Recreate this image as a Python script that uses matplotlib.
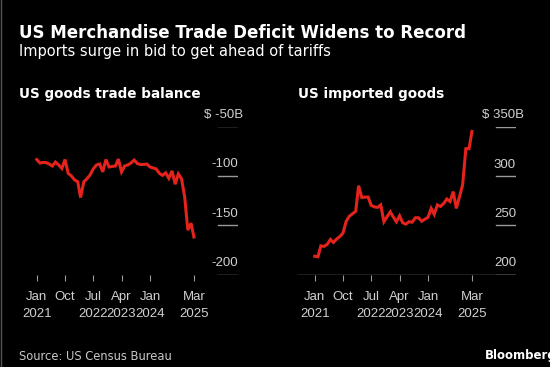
import matplotlib
matplotlib.use("Agg")
import matplotlib.pyplot as plt
import pandas as pd
from matplotlib.lines import Line2D

# monthly data, Jan 2021 - Mar 2025 (billions of dollars)
months = pd.date_range("2021-01-01", "2025-03-01", freq="MS")

trade_balance = [
    -83.5, -87, -86.5, -86.5, -88, -90, -86, -89, -92.5, -83.5, -97.5, -100,
    -104, -106, -122, -106, -103, -99, -93, -89, -88, -96, -83.5, -91,
    -90.5, -90, -83, -96, -90, -89, -87, -84, -87.5, -88.5, -88.5, -88,
    -91, -92, -93, -97.5, -99.5, -97, -102.5, -95, -108.5, -98, -103, -121,
    -155, -148, -162,
]

imports = [
    218.5, 218, 229, 228.5, 230.5, 235.5, 232.5, 236, 238.5, 242, 254, 259,
    261.5, 264, 290, 278, 278.5, 278.5, 270, 268.5, 268, 270.5, 253.5, 258.5,
    263.5, 258, 253.5, 259.5, 252.5, 251, 253.5, 253, 257.5, 257.5, 254, 256,
    258, 267, 261, 270.5, 269, 272, 276.5, 274, 284, 267, 279, 291,
    327.5, 327.5, 345,
]

tick_dates = pd.to_datetime(["2021-01-01", "2021-10-01", "2022-07-01",
                             "2023-04-01", "2024-01-01", "2025-03-01"])
tick_labels = ["Jan\n2021", "Oct", "Jul\n2022", "Apr\n2023", "Jan\n2024", "Mar\n2025"]

left_ticks = [-50, -100, -150, -200]
left_labels = ["$ -50B", "-100", "-150", "-200"]
right_ticks = [350, 300, 250, 200]
right_labels = ["$ 350B", "300", "250", "200"]

RED = "#e3231c"
GRID = "#9a9a9a"
LABEL = "#d0d0d0"
TICKFONT = "Liberation Sans"

W, H = 550, 367
fig = plt.figure(figsize=(W / 100, H / 100), dpi=100, facecolor="black")


def px_axes(x0, x1, y0, y1):
    return fig.add_axes([x0 / W, 1 - y1 / H, (x1 - x0) / W, (y1 - y0) / H])


def style(ax, ylim, yticks, ylabels, top_offset, full_base):
    ax.set_facecolor("black")
    ax.set_xlim(pd.Timestamp("2020-07-23"), pd.Timestamp("2026-05-01"))
    ax.set_ylim(*ylim)
    for s in ax.spines.values():
        s.set_visible(False)
    ax.set_yticks([])
    ax.set_xticks(tick_dates)
    ax.set_xticklabels(tick_labels, fontsize=9.5, family=TICKFONT,
                       color=LABEL, linespacing=1.5)
    ax.tick_params(axis="x", length=4, width=0.8, color=GRID, pad=8)
    for v, lab in zip(yticks, ylabels):
        ax.axhline(v, xmin=0.908, xmax=1.0, color=GRID, lw=1)
        dx = top_offset if lab.endswith("B") else 0
        ax.annotate(lab, xy=(1, v), xycoords=("axes fraction", "data"),
                    xytext=(dx, 6), textcoords="offset points",
                    ha="right", va="baseline", fontsize=9.5,
                    family=TICKFONT, color=LABEL, annotation_clip=False)
    if full_base:
        ax.axhline(ylim[0], color=GRID, lw=1)


ax1 = px_axes(20, 238, 126.5, 274.5)
style(ax1, (-200, -50), left_ticks, left_labels, 3.5, False)
ax1.plot(months, trade_balance, color=RED, lw=2.2, solid_joinstyle="miter")

ax2 = px_axes(298, 516, 126.5, 274.5)
style(ax2, (200, 350), right_ticks, right_labels, 6, True)
ax2.plot(months, imports, color=RED, lw=2.2, solid_joinstyle="miter")

# titles
fig.text(19 / W, 1 - 38 / H, "US Merchandise Trade Deficit Widens to Record",
         fontsize=12, fontweight="bold", color="white", va="baseline")
fig.text(19 / W, 1 - 56 / H, "Imports surge in bid to get ahead of tariffs",
         fontsize=10.5, color="white", va="baseline")
fig.text(19 / W, 1 - 98 / H, "US goods trade balance",
         fontsize=9.75, fontweight="bold", color="white", va="baseline")
fig.text(298 / W, 1 - 98 / H, "US imported goods",
         fontsize=9.75, fontweight="bold", color="white", va="baseline")
fig.text(19 / W, 1 - 360 / H, "Source: US Census Bureau",
         fontsize=8.3, color="#c8c8c8", va="baseline")
fig.text(485 / W, 1 - 359 / H, "Bloomberg",
         fontsize=8.5, fontweight="bold", color="white", va="baseline")

# thin frame on the left edge
fig.add_artist(Line2D([0.7 / W, 0.7 / W], [0, 1], color="#555555", lw=1))

fig.savefig("out.png", dpi=100, facecolor="black")
